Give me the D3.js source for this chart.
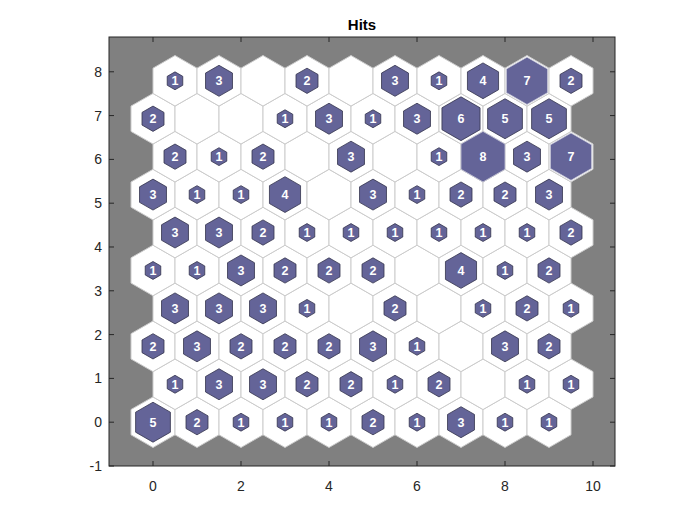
<!DOCTYPE html>
<html><head><meta charset="utf-8">
<script src="https://cdn.jsdelivr.net/npm/d3@7"></script>
<style>body{margin:0;background:#fff;} svg{display:block;}</style>
</head><body>
<script>
// Hits per neuron, rows from bottom (row 0) to top (row 9), 10 columns each
const row0 = [5,2,1,1,1,2,1,3,1,1];
const row1 = [1,3,3,2,2,1,2,0,1,1];
const row2 = [2,3,2,2,2,3,1,0,3,2];
const row3 = [3,3,3,1,0,2,0,1,2,1];
const row4 = [1,1,3,2,2,2,0,4,1,2];
const row5 = [3,3,2,1,1,1,1,1,1,2];
const row6 = [3,1,1,4,0,3,1,2,2,3];
const row7 = [2,1,2,0,3,0,1,8,3,7];
const row8 = [2,0,0,1,3,1,3,6,5,5];
const row9 = [1,3,0,2,0,3,1,4,7,2];
const hitRows = [row0,row1,row2,row3,row4,row5,row6,row7,row8,row9];
const xTicks = [0,2,4,6,8,10];
const yTicks = [-1,0,1,2,3,4,5,6,7,8];
const title = "Hits";

const W = 700, H = 525;
const m = {left:109, right:615, top:37, bottom:466};
const svg = d3.select("body").append("svg").attr("width",W).attr("height",H);

const rowH = Math.sqrt(3)/2;
const neurons = [];
hitRows.forEach((r,i)=>r.forEach((h,j)=>neurons.push({x:j+(i%2)*0.5, y:i*rowH, h})));
const maxH = d3.max(neurons,d=>d.h);

const x = d3.scaleLinear().domain([-1,10.5]).range([m.left,m.right]);
const y = d3.scaleLinear().domain([-1,9*rowH+1]).range([m.bottom,m.top]);
const ux = x(1)-x(0), uy = y(0)-y(1);

svg.append("rect").attr("x",m.left).attr("y",m.top).attr("width",m.right-m.left).attr("height",m.bottom-m.top)
  .attr("fill","#808080");

function hexPath(cx,cy,w){
  const a = w/Math.sqrt(3), b = w/(2*Math.sqrt(3)), c = w/2;
  const pts = [[0,a],[c,b],[c,-b],[0,-a],[-c,-b],[-c,b]];
  return "M"+pts.map(p=>[x(cx+p[0]),y(cy+p[1])].join(",")).join("L")+"Z";
}

const g = svg.append("g");
g.selectAll("path.cell").data(neurons).join("path").attr("class","cell")
  .attr("d",d=>hexPath(d.x,d.y,1)).attr("fill","#ffffff").attr("stroke","#cccccc").attr("stroke-width",1);
g.selectAll("path.hit").data(neurons.filter(d=>d.h>0)).join("path").attr("class","hit")
  .attr("d",d=>hexPath(d.x,d.y,Math.sqrt(d.h/maxH)))
  .attr("fill","#646498").attr("stroke",d=>d.h>=7?"#c8c8d8":"#33334d").attr("stroke-width",0.8);
g.selectAll("text.hit").data(neurons.filter(d=>d.h>0)).join("text").attr("class","hit")
  .attr("x",d=>x(d.x)).attr("y",d=>y(d.y)+4.5).attr("text-anchor","middle")
  .attr("font-family","Liberation Sans, Arial, sans-serif").attr("font-weight","bold").attr("font-size",12.5)
  .attr("fill","#ffffff").text(d=>d.h);

// frame
svg.append("rect").attr("x",m.left).attr("y",m.top).attr("width",m.right-m.left).attr("height",m.bottom-m.top)
  .attr("fill","none").attr("stroke","#262626").attr("stroke-width",1);

const tl = 5;
const ax = svg.append("g").attr("stroke","#262626").attr("stroke-width",1);
xTicks.forEach(t=>{
  ax.append("line").attr("x1",x(t)).attr("x2",x(t)).attr("y1",m.bottom).attr("y2",m.bottom-tl);
  ax.append("line").attr("x1",x(t)).attr("x2",x(t)).attr("y1",m.top).attr("y2",m.top+tl);
});
yTicks.forEach(t=>{
  ax.append("line").attr("x1",m.left).attr("x2",m.left+tl).attr("y1",y(t)).attr("y2",y(t));
  ax.append("line").attr("x1",m.right).attr("x2",m.right-tl).attr("y1",y(t)).attr("y2",y(t));
});
const font = "Liberation Sans, Arial, sans-serif";
svg.selectAll("text.xt").data(xTicks).join("text").attr("class","xt")
  .attr("x",d=>x(d)).attr("y",m.bottom+25).attr("text-anchor","middle")
  .attr("font-family",font).attr("font-size",14).attr("fill","#262626").text(d=>d);
svg.selectAll("text.yt").data(yTicks).join("text").attr("class","yt")
  .attr("x",m.left-7).attr("y",d=>y(d)+5).attr("text-anchor","end")
  .attr("font-family",font).attr("font-size",14).attr("fill","#262626").text(d=>d);
svg.append("text").attr("x",(m.left+m.right)/2).attr("y",30).attr("text-anchor","middle")
  .attr("font-family",font).attr("font-weight","bold").attr("font-size",15).attr("fill","#000").text(title);
</script>
</body></html>
